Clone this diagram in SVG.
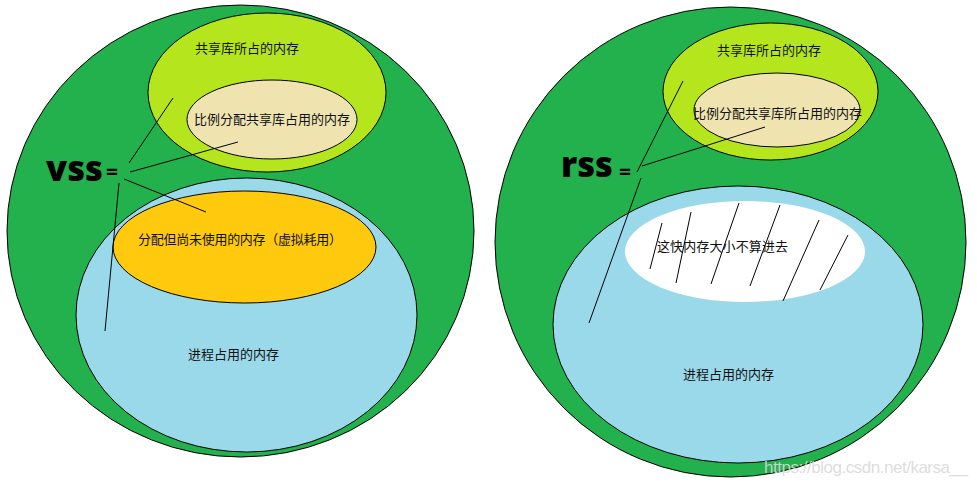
<svg xmlns="http://www.w3.org/2000/svg" width="977" height="486" viewBox="0 0 977 486">
<style>
.o{stroke:#000;stroke-width:1}
.big{fill:#22b14c}
.lib{fill:#b5e61d}
.prop{fill:#efe4b0}
.proc{fill:#99d9ea}
.virt{fill:#ffc90e}
.t{font-family:"Noto Sans CJK SC","Noto Sans",sans-serif;font-size:13px;fill:#111;dominant-baseline:central}
.big-t{font-family:"Open Sans","DejaVu Sans",sans-serif;font-weight:800;fill:#000}
.ln{stroke:#000;stroke-width:1;fill:none}
.wm{font-family:"Liberation Sans",Arial,sans-serif;font-size:17px;fill:#d9d9d9;fill-opacity:0.9}
</style>
<rect width="977" height="486" fill="#fff"/>

<!-- LEFT: VSS -->
<g id="vss-total"><ellipse class="o big" cx="240.5" cy="231" rx="233.5" ry="226"/></g>
<g id="vss-shared-lib">
<ellipse class="o lib" cx="267" cy="92.5" rx="119" ry="79.5"/>
<text class="t" x="195" y="47" textLength="104">共享库所占的内存</text>
</g>
<g id="vss-proportional">
<ellipse class="o prop" cx="272" cy="119.5" rx="85" ry="39.5"/>
<text class="t" x="194" y="118" textLength="156">比例分配共享库占用的内存</text>
</g>
<g id="vss-process">
<ellipse class="o proc" cx="246.5" cy="315" rx="170.5" ry="137"/>
<text class="t" x="188" y="353" textLength="91">进程占用的内存</text>
</g>
<g id="vss-virtual">
<ellipse class="o virt" cx="244.5" cy="247" rx="131.5" ry="56"/>
<text class="t" x="138" y="238" textLength="204">分配但尚未使用的内存（虚拟耗用）</text>
</g>
<g id="vss-label">
<text class="big-t" x="46" y="181" font-size="36" textLength="57" lengthAdjust="spacingAndGlyphs">vss</text>
<text class="big-t" x="106" y="178" font-size="17" textLength="12" lengthAdjust="spacingAndGlyphs">=</text>
</g>

<!-- RIGHT: RSS -->
<g id="rss-total"><ellipse class="o big" cx="730.5" cy="242" rx="235.5" ry="235"/></g>
<g id="rss-shared-lib">
<ellipse class="o lib" cx="770.5" cy="91.5" rx="107.5" ry="68.5"/>
<text class="t" x="717" y="49" textLength="104">共享库所占的内存</text>
</g>
<g id="rss-proportional">
<ellipse class="o prop" cx="777" cy="110" rx="83" ry="37"/>
<text class="t" x="693" y="112" textLength="169">比例分配共享库所占用的内存</text>
</g>
<g id="rss-process">
<ellipse class="o proc" cx="738" cy="324.5" rx="185" ry="138.5"/>
<text class="t" x="683" y="373" textLength="91">进程占用的内存</text>
</g>
<g id="rss-excluded">
<ellipse cx="745" cy="251.5" rx="120" ry="50.5" fill="#fff"/>
<text class="t" x="657" y="245" textLength="131">这快内存大小不算进去</text>
<g class="ln">
<line x1="650" y1="269" x2="662" y2="223"/>
<line x1="676" y1="283" x2="691" y2="212"/>
<line x1="711" y1="284" x2="739" y2="203"/>
<line x1="750" y1="286" x2="780" y2="205"/>
<line x1="783" y1="301" x2="819" y2="220"/>
<line x1="820" y1="290" x2="848" y2="235"/>
</g>
</g>
<g id="rss-label">
<text class="big-t" x="561" y="177" font-size="36" textLength="52" lengthAdjust="spacingAndGlyphs">rss</text>
<text class="big-t" x="619" y="178" font-size="17" textLength="12" lengthAdjust="spacingAndGlyphs">=</text>
</g>

<g id="connectors" class="ln">
<line x1="129" y1="163" x2="173" y2="98"/>
<line x1="130" y1="172" x2="238" y2="142"/>
<line x1="124" y1="179" x2="206" y2="212"/>
<line x1="119" y1="183" x2="105" y2="331"/>
<line x1="637" y1="172" x2="683" y2="81"/>
<line x1="642" y1="166" x2="765" y2="127"/>
<line x1="641" y1="178" x2="589" y2="323"/>
</g>

<text class="wm" x="764" y="473" textLength="204">https://blog.csdn.net/karsa__</text>
</svg>
